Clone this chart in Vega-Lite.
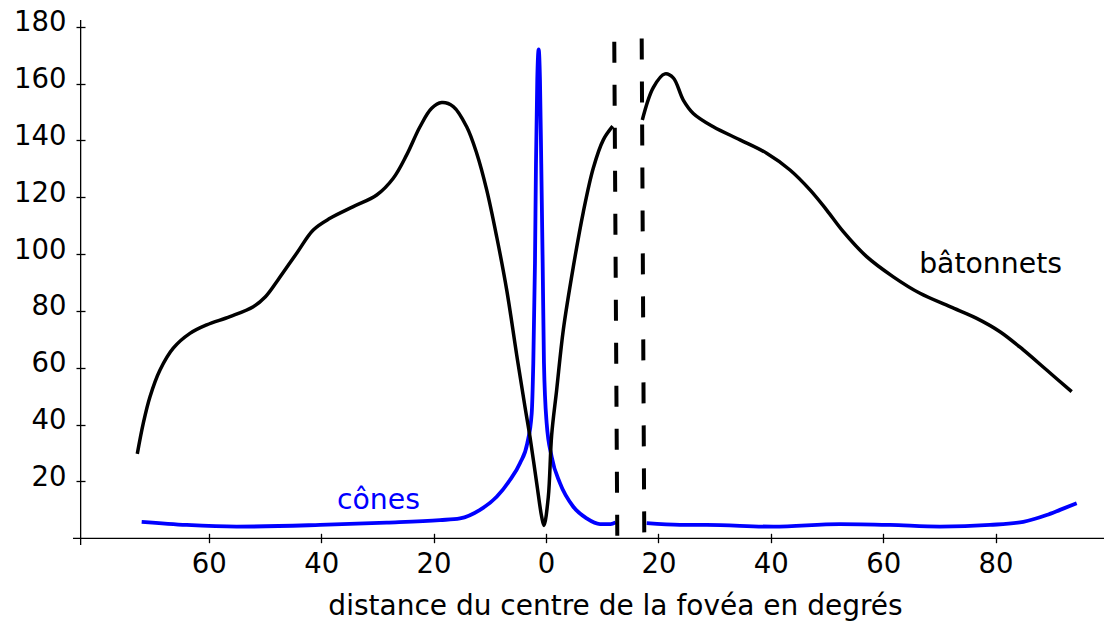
{
  "$schema": "https://vega.github.io/schema/vega-lite/v6.json",
  "width": 1031,
  "height": 525,
  "autosize": "none",
  "padding": {"left": 73, "top": 20, "right": 0, "bottom": 77},
  "background": "white",
  "config": {"view": {"stroke": null}, "font": "DejaVu Sans"},
  "datasets": {
    "rods": [
      {"seg":"a","x":-72.72,"y":29.7},{"seg":"a","x":-71.65,"y":40.5},{"seg":"a","x":-70.46,"y":49.8},{"seg":"a","x":-68.68,"y":59.2},{"seg":"a","x":-66.32,"y":66.9},{"seg":"a","x":-63.35,"y":72.1},{"seg":"a","x":-60.37,"y":75.1},{"seg":"a","x":-56.23,"y":78.0},{"seg":"a","x":-52.08,"y":81.5},{"seg":"a","x":-49.92,"y":85.0},{"seg":"a","x":-47.69,"y":90.9},{"seg":"a","x":-44.36,"y":100.3},{"seg":"a","x":-41.41,"y":108.5},{"seg":"a","x":-38.43,"y":112.6},{"seg":"a","x":-34.29,"y":116.7},{"seg":"a","x":-30.12,"y":120.8},{"seg":"a","x":-27.17,"y":126.7},{"seg":"a","x":-24.79,"y":134.9},{"seg":"a","x":-22.42,"y":144.8},{"seg":"a","x":-20.34,"y":151.3},{"seg":"a","x":-18.56,"y":153.3},{"seg":"a","x":-16.49,"y":151.9},{"seg":"a","x":-14.11,"y":144.8},{"seg":"a","x":-12.33,"y":135.5},{"seg":"a","x":-10.55,"y":122.6},{"seg":"a","x":-8.77,"y":106.1},{"seg":"a","x":-6.99,"y":87.4},{"seg":"a","x":-5.21,"y":64.5},{"seg":"a","x":-3.74,"y":46.3},{"seg":"a","x":-2.85,"y":35.7},{"seg":"a","x":-1.65,"y":19.4},{"seg":"a","x":-0.77,"y":7.6},{"seg":"a","x":-0.36,"y":4.5},{"seg":"a","x":0.41,"y":14.5},{"seg":"a","x":1.01,"y":36.3},{"seg":"a","x":1.90,"y":52.2},{"seg":"a","x":3.08,"y":73.3},{"seg":"a","x":4.86,"y":95.5},{"seg":"a","x":6.64,"y":114.8},{"seg":"a","x":8.42,"y":130.3},{"seg":"a","x":10.20,"y":140.2},{"seg":"a","x":11.87,"y":145.0},
      {"seg":"b","x":17.14,"y":147.2},{"seg":"b","x":19.09,"y":158.6},{"seg":"b","x":21.17,"y":163.4},{"seg":"b","x":22.65,"y":162.0},{"seg":"b","x":24.43,"y":154.2},{"seg":"b","x":26.21,"y":149.5},{"seg":"b","x":29.77,"y":144.8},{"seg":"b","x":34.52,"y":140.2},{"seg":"b","x":39.27,"y":135.5},{"seg":"b","x":43.42,"y":129.6},{"seg":"b","x":46.98,"y":122.6},{"seg":"b","x":49.95,"y":115.5},{"seg":"b","x":52.90,"y":107.9},{"seg":"b","x":57.06,"y":99.1},{"seg":"b","x":61.80,"y":92.0},{"seg":"b","x":66.55,"y":86.2},{"seg":"b","x":71.89,"y":81.5},{"seg":"b","x":76.64,"y":77.4},{"seg":"b","x":80.78,"y":72.7},{"seg":"b","x":84.93,"y":66.3},{"seg":"b","x":89.09,"y":59.2},{"seg":"b","x":93.54,"y":51.6}
    ],
    "cones": [
      {"seg":"a","x":-71.94,"y":5.8},{"seg":"a","x":-63.93,"y":4.7},{"seg":"a","x":-55.04,"y":4.1},{"seg":"a","x":-40.21,"y":4.7},{"seg":"a","x":-28.35,"y":5.5},{"seg":"a","x":-18.86,"y":6.4},{"seg":"a","x":-15.30,"y":7.0},{"seg":"a","x":-11.74,"y":10.0},{"seg":"a","x":-8.77,"y":14.6},{"seg":"a","x":-6.41,"y":20.5},{"seg":"a","x":-4.63,"y":26.4},{"seg":"a","x":-3.33,"y":33.4},{"seg":"a","x":-2.54,"y":44.0},{"seg":"a","x":-2.26,"y":61.6},{"seg":"a","x":-1.96,"y":96.8},{"seg":"a","x":-1.78,"y":131.9},{"seg":"a","x":-1.55,"y":161.3},{"seg":"a","x":-1.30,"y":172.0},{"seg":"a","x":-1.07,"y":161.3},{"seg":"a","x":-0.84,"y":131.9},{"seg":"a","x":-0.59,"y":96.8},{"seg":"a","x":-0.36,"y":61.6},{"seg":"a","x":0.12,"y":40.5},{"seg":"a","x":1.01,"y":28.7},{"seg":"a","x":2.49,"y":19.4},{"seg":"a","x":4.86,"y":11.1},{"seg":"a","x":7.24,"y":7.0},{"seg":"a","x":9.61,"y":5.0},{"seg":"a","x":11.5,"y":5.0},{"seg":"a","x":12.4,"y":5.6},
      {"seg":"b","x":17.92,"y":5.3},{"seg":"b","x":23.84,"y":4.7},{"seg":"b","x":28.59,"y":4.7},{"seg":"b","x":40.44,"y":4.1},{"seg":"b","x":52.31,"y":5.0},{"seg":"b","x":61.21,"y":4.7},{"seg":"b","x":70.11,"y":4.1},{"seg":"b","x":79.00,"y":4.7},{"seg":"b","x":84.93,"y":5.8},{"seg":"b","x":89.09,"y":8.2},{"seg":"b","x":91.46,"y":10.0},{"seg":"b","x":94.43,"y":12.3}
    ],
    "blind": [
      {"x":12.15,"y":174.7,"x2":12.69,"y2":0},
      {"x":17.03,"y":175.9,"x2":17.49,"y2":0}
    ],
    "xspine": [{"y": 0}],
    "yspine": [{"x": -82.8}],
    "labels": [
      {"label": "bâtonnets", "x": 66.4, "y": 93.5},
      {"label": "cônes", "x": -37.2, "y": 10.2}
    ]
  },
  "layer": [
    {
      "data": {"name": "cones"},
      "mark": {"type": "line", "interpolate": "monotone", "color": "#0000ff", "strokeWidth": 3.8, "strokeCap": "butt", "strokeJoin": "round"},
      "encoding": {
        "x": {
          "field": "x", "type": "quantitative",
          "scale": {"domain": [-84.16, 99.29], "nice": false, "zero": false},
          "axis": {
            "values": [-60, -40, -20, 0, 20, 40, 60, 80],
            "labelExpr": "'' + abs(datum.value)",
            "domain": false, "grid": false,
            "ticks": true, "tickSize": 9.4, "tickWidth": 1.3, "tickColor": "#000000",
            "offset": -11.7,
            "labelPadding": 7.3, "labelFontSize": 27.5, "labelColor": "#000000", "labelFont": "DejaVu Sans",
            "labelFlush": false, "labelOverlap": false,
            "title": "distance du centre de la fovéa en degrés",
            "titleFont": "DejaVu Sans", "titleFontSize": 28, "titleFontWeight": "normal", "titleColor": "#000000",
            "titleX": 542, "titleY": 80.7, "titleBaseline": "alphabetic", "titleAnchor": "middle", "titleAlign": "center"
          }
        },
        "y": {
          "field": "y", "type": "quantitative",
          "scale": {"domain": [-2.36, 182.37], "nice": false, "zero": false},
          "axis": {
            "values": [20, 40, 60, 80, 100, 120, 140, 160, 180],
            "domain": false, "grid": false,
            "ticks": true, "tickSize": 9, "tickWidth": 1.3, "tickColor": "#000000",
            "offset": -12,
            "labelPadding": 10, "labelOffset": -4, "labelFontSize": 27.5, "labelColor": "#000000", "labelFont": "DejaVu Sans",
            "labelOverlap": false,
            "title": null
          }
        },
        "detail": {"field": "seg"}
      }
    },
    {
      "data": {"name": "rods"},
      "mark": {"type": "line", "interpolate": "catmull-rom", "color": "#000000", "strokeWidth": 3.5, "strokeCap": "butt", "strokeJoin": "round"},
      "encoding": {
        "x": {"field": "x", "type": "quantitative"},
        "y": {"field": "y", "type": "quantitative"},
        "detail": {"field": "seg"}
      }
    },
    {
      "data": {"name": "blind"},
      "mark": {"type": "rule", "color": "#000000", "strokeWidth": 4, "strokeDash": [21, 22], "strokeCap": "butt"},
      "encoding": {
        "x": {"field": "x", "type": "quantitative"},
        "y": {"field": "y", "type": "quantitative"},
        "x2": {"field": "x2"},
        "y2": {"field": "y2"}
      }
    },
    {
      "data": {"name": "xspine"},
      "mark": {"type": "rule", "color": "#000000", "strokeWidth": 1.3},
      "encoding": {"y": {"field": "y", "type": "quantitative"}}
    },
    {
      "data": {"name": "yspine"},
      "mark": {"type": "rule", "color": "#000000", "strokeWidth": 1.3},
      "encoding": {"x": {"field": "x", "type": "quantitative"}}
    },
    {
      "data": {"name": "labels"},
      "mark": {"type": "text", "align": "left", "baseline": "alphabetic", "font": "DejaVu Sans", "fontSize": 28.3},
      "encoding": {
        "x": {"field": "x", "type": "quantitative"},
        "y": {"field": "y", "type": "quantitative"},
        "text": {"field": "label"},
        "color": {"field": "label", "type": "nominal", "scale": {"domain": ["bâtonnets", "cônes"], "range": ["#000000", "#0000ff"]}, "legend": null}
      }
    }
  ]
}
